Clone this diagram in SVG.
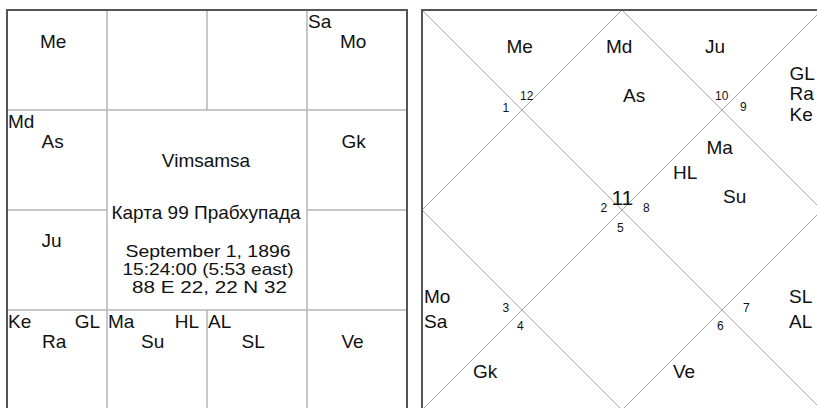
<svg xmlns="http://www.w3.org/2000/svg" width="817" height="408" viewBox="0 0 817 408">
<style>
text{font-family:"Liberation Sans",Arial,sans-serif;fill:#111}
.p{font-size:19px}
.n{font-size:12px}
.c{font-size:19px;text-anchor:middle}
.d{font-size:17px;text-anchor:middle}
.r{text-anchor:end}
.border{fill:none;stroke:#555;stroke-width:2}
.grid{stroke:#b4b4b4;stroke-width:1.5}
.diag{stroke:#a8a8a8;stroke-width:1;fill:none}
</style>
<rect width="817" height="408" fill="#fff"/>
<g id="south-chart">
<g id="connectors-left">
<line class="grid" x1="107" y1="10" x2="107" y2="410"/>
<line class="grid" x1="307" y1="10" x2="307" y2="410"/>
<line class="grid" x1="207" y1="10" x2="207" y2="110"/>
<line class="grid" x1="207" y1="310" x2="207" y2="410"/>
<line class="grid" x1="7" y1="110" x2="407" y2="110"/>
<line class="grid" x1="7" y1="310" x2="407" y2="310"/>
<line class="grid" x1="7" y1="210" x2="107" y2="210"/>
<line class="grid" x1="307" y1="210" x2="407" y2="210"/>
<rect class="border" x="7" y="10" width="400" height="400"/>
</g>
<g id="s-pisces"><text class="p" x="40" y="48">Me</text></g>
<g id="s-taurus"><text class="p" x="308" y="28">Sa</text><text class="p" x="340" y="48">Mo</text></g>
<g id="s-aquarius"><text class="p" x="8" y="128">Md</text><text class="p" x="41.5" y="148">As</text></g>
<g id="s-gemini"><text class="p" x="341.5" y="148">Gk</text></g>
<g id="s-capricorn"><text class="p" x="41.5" y="247">Ju</text></g>
<g id="s-sagittarius"><text class="p" x="8" y="328">Ke</text><text class="p r" x="100" y="328">GL</text><text class="p" x="42" y="348">Ra</text></g>
<g id="s-scorpio"><text class="p" x="108" y="328">Ma</text><text class="p r" x="199" y="328">HL</text><text class="p" x="141" y="348">Su</text></g>
<g id="s-libra"><text class="p" x="208" y="328">AL</text><text class="p" x="241.5" y="348">SL</text></g>
<g id="s-virgo"><text class="p" x="341.5" y="348">Ve</text></g>
<g id="s-center">
<text class="c" x="206" y="167">Vimsamsa</text>
<text class="c" x="206" y="218.5">Карта 99 Прабхупада</text>
<text class="d" x="208" y="256.7" textLength="165" lengthAdjust="spacingAndGlyphs">September 1, 1896</text>
<text class="d" x="208" y="275" textLength="171" lengthAdjust="spacingAndGlyphs">15:24:00 (5:53 east)</text>
<text class="d" x="209.5" y="293.3" textLength="155" lengthAdjust="spacingAndGlyphs">88 E 22, 22 N 32</text>
</g>
</g>
<g id="north-chart">
<g id="connectors-right">
<line class="diag" x1="422" y1="10" x2="822" y2="410"/>
<line class="diag" x1="822" y1="10" x2="422" y2="410"/>
<polygon class="diag" points="622,10 822,210 622,410 422,210"/>
<line class="border" x1="422" y1="9" x2="422" y2="410"/>
<line class="border" x1="421" y1="10" x2="830" y2="10"/>
</g>
<g id="h11"><text x="611.5" y="205" style="font-size:21px">11</text><text class="p" x="623" y="102">As</text><text class="p" x="606" y="53">Md</text></g>
<g id="h12"><text class="n" x="520" y="100">12</text><text class="p" x="506.5" y="53">Me</text></g>
<g id="h1"><text class="n" x="502.5" y="111.5">1</text></g>
<g id="h10"><text class="n" x="715" y="100">10</text><text class="p" x="705" y="53">Ju</text></g>
<g id="h9"><text class="n" x="740" y="110.5">9</text><text class="p" x="789.5" y="79.5">GL</text><text class="p" x="789.5" y="100">Ra</text><text class="p" x="789.5" y="120.5">Ke</text></g>
<g id="h8"><text class="n" x="643" y="211.7">8</text><text class="p" x="706.5" y="154.3">Ma</text><text class="p" x="673" y="179.3">HL</text><text class="p" x="723" y="203.3">Su</text></g>
<g id="h2"><text class="n" x="600.5" y="211.7">2</text></g>
<g id="h5"><text class="n" x="617" y="231.7">5</text></g>
<g id="h3"><text class="n" x="502.5" y="311.7">3</text><text class="p" x="424" y="303.3">Mo</text><text class="p" x="424" y="328.3">Sa</text></g>
<g id="h4"><text class="n" x="517" y="330">4</text><text class="p" x="473" y="378.3">Gk</text></g>
<g id="h6"><text class="n" x="717" y="330">6</text><text class="p" x="673" y="378.3">Ve</text></g>
<g id="h7"><text class="n" x="743" y="311.7">7</text><text class="p" x="789" y="303.3">SL</text><text class="p" x="789" y="328.3">AL</text></g>
</g>
</svg>
